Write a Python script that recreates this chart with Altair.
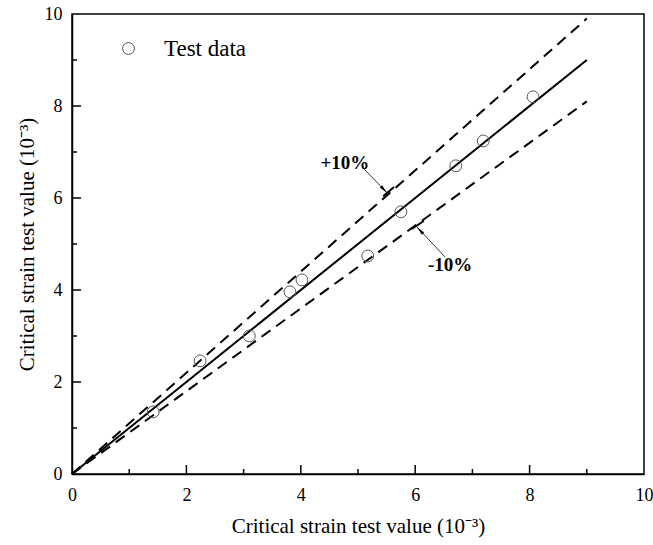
import altair as alt
import pandas as pd

# ---- data ----
test_x = [1.42, 2.24, 3.10, 3.81, 4.02, 5.17, 5.75, 6.71, 7.19, 8.06]
test_y = [1.35, 2.46, 3.00, 3.96, 4.22, 4.74, 5.70, 6.70, 7.24, 8.20]

line_x = [0, 9]
line_names = ["equal", "+10%", "-10%"]
line_ratio = [1.0, 1.1, 0.9]

ann_label = ["+10%", "-10%"]
ann_text_x = [4.77, 6.61]
ann_text_y = [6.76, 4.54]
arrow_x0 = [5.09, 6.52]
arrow_y0 = [6.65, 4.72]
arrow_x1 = [5.51, 6.03]
arrow_y1 = [6.11, 5.37]
arrow_angle = [136, 317]
bar_x0 = [5.44, 5.94]
bar_y0 = [6.04, 5.33]
bar_x1 = [5.63, 6.15]
bar_y1 = [6.24, 5.50]

tick_values = [1, 2, 3, 4, 5, 6, 7, 8, 9]
tick_kind = ["minor", "major", "minor", "major", "minor", "major", "minor", "major", "minor"]
axis_labels = [0, 2, 4, 6, 8, 10]

FONT = "Liberation Serif"
TITLE = "Critical strain test value (10\u207b\u00b3)"

pts = pd.DataFrame({"x": test_x, "y": test_y, "series": ["Test data"] * len(test_x)})
lines = pd.DataFrame(
    [{"name": n, "x": x, "y": x * r} for n, r in zip(line_names, line_ratio) for x in line_x]
)
ann = pd.DataFrame({
    "label": ann_label, "tx": ann_text_x, "ty": ann_text_y,
    "x0": arrow_x0, "y0": arrow_y0, "x1": arrow_x1, "y1": arrow_y1,
    "angle": arrow_angle, "bx0": bar_x0, "by0": bar_y0, "bx1": bar_x1, "by1": bar_y1,
})
ticks = pd.DataFrame({"t": tick_values, "kind": tick_kind})

xs = alt.Scale(domain=[0, 10], nice=False, zero=False)
ys = alt.Scale(domain=[0, 10], nice=False, zero=False)

x_axis = alt.Axis(
    values=axis_labels, format="d", ticks=False, tickSize=0, labelPadding=12,
    labelFlush=False,
    title=TITLE, titleX=286, titleY=58, titleAlign="center", titleBaseline="alphabetic",
    grid=False,
)
y_axis = alt.Axis(
    values=axis_labels, format="d", ticks=False, tickSize=0, labelPadding=10,
    labelFlush=False,
    title=TITLE, titleX=-39, titleY=230, titleAngle=-90, titleAlign="center",
    titleBaseline="alphabetic", grid=False,
)

solid = alt.Chart(lines).transform_filter(alt.datum.name == "equal").mark_line(
    color="black", strokeWidth=2
).encode(
    x=alt.X("x:Q", scale=xs, axis=x_axis),
    y=alt.Y("y:Q", scale=ys, axis=y_axis),
)

dashed = alt.Chart(lines).transform_filter(alt.datum.name != "equal").mark_line(
    color="black", strokeWidth=2, strokeDash=[11, 7]
).encode(
    x=alt.X("x:Q", scale=xs),
    y=alt.Y("y:Q", scale=ys),
    detail="name:N",
)

points = alt.Chart(pts).mark_point(
    filled=False, size=140, strokeWidth=1, color="#555555", opacity=1
).encode(
    x=alt.X("x:Q", scale=xs),
    y=alt.Y("y:Q", scale=ys),
    shape=alt.Shape(
        "series:N",
        scale=alt.Scale(range=["circle"]),
        legend=alt.Legend(
            title=None, orient="none", legendX=45, legendY=23,
            labelFont=FONT, labelFontSize=23, labelColor="black",
            symbolSize=140, symbolStrokeColor="#555555", symbolStrokeWidth=1,
            symbolFillColor="transparent", labelOffset=24,
        ),
    ),
)

arrow_lines = alt.Chart(ann).mark_rule(color="#333333", strokeWidth=1).encode(
    x=alt.X("x0:Q", scale=xs), y=alt.Y("y0:Q", scale=ys), x2="x1:Q", y2="y1:Q"
)
arrow_bars = alt.Chart(ann).mark_rule(color="black", strokeWidth=2).encode(
    x=alt.X("bx0:Q", scale=xs), y=alt.Y("by0:Q", scale=ys), x2="bx1:Q", y2="by1:Q"
)
arrow_heads = alt.Chart(ann).mark_point(
    shape="M0,0L0.35,2L-0.35,2Z", filled=True, color="black", size=81, opacity=1
).encode(
    x=alt.X("x1:Q", scale=xs), y=alt.Y("y1:Q", scale=ys), angle=alt.Angle("angle:Q", scale=None)
)
ann_text = alt.Chart(ann).mark_text(
    font=FONT, fontSize=19, fontWeight="bold", color="black", baseline="middle", align="center"
).encode(
    x=alt.X("tx:Q", scale=xs), y=alt.Y("ty:Q", scale=ys), text="label:N"
)

# inward axis ticks: length converted from pixels to data units
base = alt.Chart(ticks).transform_calculate(
    zero="0",
    xlen="datum.kind == 'major' ? 9 * 10 / 460 : 5 * 10 / 460",
    ylen="datum.kind == 'major' ? 9 * 10 / 572 : 5 * 10 / 572",
)
xt = base.mark_rule(color="black", strokeWidth=1.5).encode(
    x=alt.X("t:Q", scale=xs), x2="t:Q",
    y=alt.Y("zero:Q", scale=ys), y2="xlen:Q",
)
yt = base.mark_rule(color="black", strokeWidth=1.5).encode(
    y=alt.Y("t:Q", scale=ys), y2="t:Q",
    x=alt.X("zero:Q", scale=xs), x2="ylen:Q",
)

chart = alt.layer(
    solid, dashed, points, arrow_lines, arrow_bars, arrow_heads, ann_text, xt, yt,
).properties(
    width=572, height=460,
    autosize=alt.AutoSizeParams(type="none"),
    padding={"left": 72, "top": 14, "right": 9, "bottom": 71},
    background="white",
).configure_view(
    stroke="black", strokeWidth=1.5
).configure_axis(
    labelFont=FONT, labelFontSize=18, labelColor="black",
    titleFont=FONT, titleFontSize=21, titleFontWeight="normal", titleColor="black",
    domainColor="black", domainWidth=1.5,
)

chart.save("out.html", embed_options={"renderer": "svg", "actions": False})
